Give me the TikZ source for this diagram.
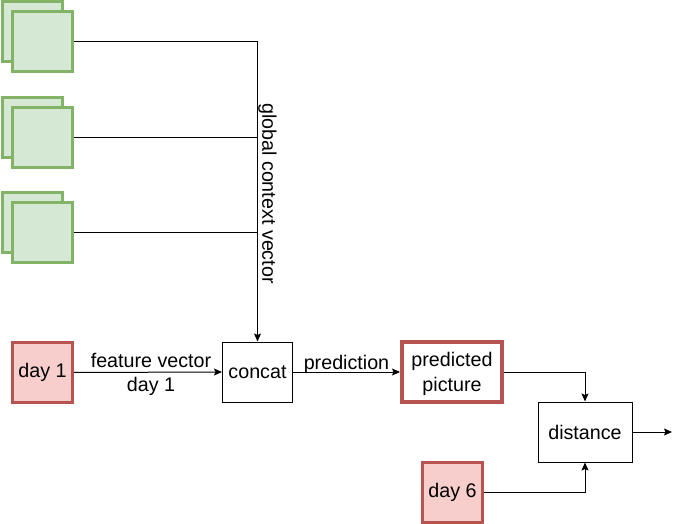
\documentclass[tikz,border=0pt]{standalone}
\usepackage{fontspec}
\setmainfont{Liberation Sans}
\usetikzlibrary{arrows.meta}
\definecolor{gstroke}{HTML}{82B366}
\definecolor{gfill}{HTML}{D5E8D4}
\definecolor{rstroke}{HTML}{B85450}
\definecolor{rfill}{HTML}{F8CECC}
\begin{document}
\begin{tikzpicture}[x=1pt,y=-1pt,
  every node/.style={font=\fontsize{19.7}{24.5}\selectfont, inner sep=0pt, align=center},
  gsq/.style={draw=gstroke, fill=gfill, line width=3pt, minimum width=60pt, minimum height=60pt},
  daybox/.style={draw=rstroke, fill=rfill, line width=3pt, minimum width=60pt, minimum height=60pt},
  predbox/.style={draw=rstroke, fill=white, line width=4pt, minimum width=100pt, minimum height=60pt},
  opbox/.style={draw=black, fill=white, line width=1pt, minimum height=60pt},
  conn/.style={draw=black, line width=1pt},
  arr/.style={conn, -{Stealth[length=8pt,width=7pt,inset=1.5pt]}}
]
\useasboundingbox (0,0) rectangle (681,524);
% stacked green squares
\node[gsq] (g1b) at (32.5,31.5) {};
\node[gsq] (g1) at (42.5,41.5) {};
\node[gsq] (g2b) at (32.5,127.5) {};
\node[gsq] (g2) at (42.5,137.5) {};
\node[gsq] (g3b) at (32.5,222.5) {};
\node[gsq] (g3) at (42.5,232.5) {};
% main row
\node[daybox] (day1) at (42.5,372.5) {day 1};
\node[opbox, minimum width=70pt] (concat) at (257.5,372) {concat};
\node[predbox] (pred) at (452,372) {};
\node (predtxt) at (452,374) {predicted\\picture};
\node[opbox, minimum width=94pt] (dist) at (585,432) {distance};
\node[daybox] (day6) at (452.5,492.5) {day 6};
\coordinate (out) at (672,432);
% connectors
\draw[arr] (g1.east) -| (concat.north);
\draw[conn] (g2.east) -- (g2.east -| concat.north);
\draw[conn] (g3.east) -- (g3.east -| concat.north);
\node[rotate=-90] (gcv) at (267.5,193.5) {global context vector};
\draw[arr] (day1.east) -- (concat.west);
\node[anchor=base] (fv1) at (151,367.5) {feature vector};
\node[anchor=base] (fv2) at (151,391.5) {day 1};
\draw[arr] (concat.east) -- (pred.west);
\node[anchor=base] (predlbl) at (346.5,369.5) {prediction};
\draw[arr] (pred.east) -| (dist.north);
\draw[arr] (day6.east) -| (dist.south);
\draw[arr] (dist.east) -- (out);
\end{tikzpicture}
\end{document}
